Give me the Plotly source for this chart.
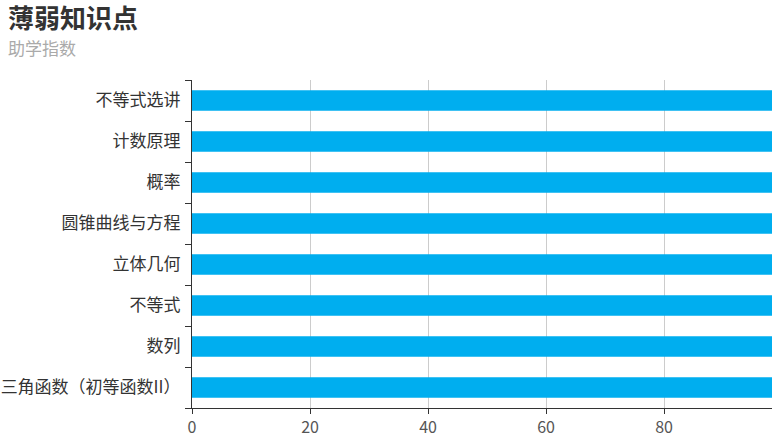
import plotly.graph_objects as go

categories = ["三角函数（初等函数II）", "数列", "不等式", "立体几何", "圆锥曲线与方程", "概率", "计数原理", "不等式选讲"]
values = [98.3, 98.3, 98.3, 98.3, 98.3, 98.3, 98.3, 98.3]
x_ticks = [0, 20, 40, 60, 80]

FONT = "Noto Sans CJK SC, Microsoft YaHei, sans-serif"

W, H = 774, 434
L, R, T, B = 192, 2, 80, 26
PW, PH = W - L - R, H - T - B

fig = go.Figure(go.Bar(
    y=categories, x=values, orientation="h",
    marker=dict(color="#00aeef", line=dict(width=0)),
    width=0.5,
))

fig.update_layout(
    width=W, height=H,
    margin=dict(l=L, r=R, t=T, b=B),
    paper_bgcolor="white", plot_bgcolor="white",
    showlegend=False,
    font=dict(family=FONT, size=16, color="#333"),
)
fig.add_annotation(text="<b>薄弱知识点</b>", xref="paper", yref="paper", x=-(L - 6) / PW, y=1 + (T - 17) / PH,
                   xanchor="left", yanchor="middle", showarrow=False,
                   font=dict(size=26, color="#333", family=FONT))
fig.add_annotation(text="助学指数", xref="paper", yref="paper", x=-(L - 6) / PW, y=1 + (T - 48) / PH,
                   xanchor="left", yanchor="middle", showarrow=False,
                   font=dict(size=17, color="#aaa", family=FONT))

fig.update_xaxes(
    range=[0, 98.3], tickvals=x_ticks, showgrid=True, gridcolor="#ccc", gridwidth=1,
    zeroline=False, showline=True, linecolor="#333", linewidth=1,
    ticks="outside", ticklen=5, tickcolor="#333", automargin=False,
    tickfont=dict(size=16, color="#555"), ticklabelstandoff=0,
)
fig.update_yaxes(
    categoryorder="array", categoryarray=categories,
    showline=True, linecolor="#333", linewidth=1,
    ticks="outside", ticklen=6, tickcolor="#333", tickson="boundaries",
    showgrid=False, tickfont=dict(size=17, color="#333"), ticklabelstandoff=7,
    automargin=False,
)

fig.write_html("out.html", config={"displayModeBar": False},
               post_script="document.body.style.margin='0';document.body.style.overflow='hidden';")
